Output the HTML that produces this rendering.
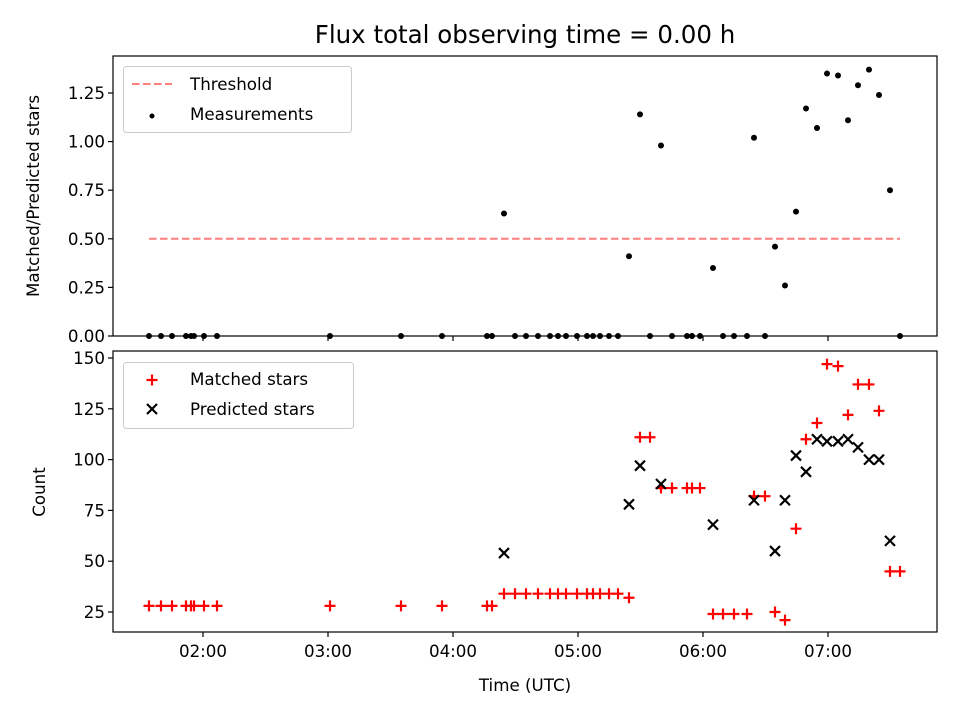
<!DOCTYPE html>
<html><head><meta charset="utf-8"><style>
body{margin:0;background:#fff}
svg{display:block;font-family:"DejaVu Sans","Liberation Sans",sans-serif}
</style></head><body>
<svg id="chart" width="960" height="720" viewBox="0 0 960 720"></svg>
<script>
const times=[1.568,1.664,1.752,1.864,1.904,1.928,2.008,2.112,3.016,3.584,3.912,4.272,4.312,4.408,4.496,4.584,4.68,4.776,4.84,4.904,4.992,5.072,5.12,5.176,5.248,5.32,5.408,5.496,5.576,5.664,5.752,5.872,5.912,5.976,6.08,6.16,6.248,6.352,6.408,6.496,6.576,6.656,6.744,6.824,6.912,6.992,7.08,7.16,7.24,7.328,7.408,7.496,7.576];
const matched=[28,28,28,28,28,28,28,28,28,28,28,28,28,34,34,34,34,34,34,34,34,34,34,34,34,34,32,111,111,86,86,86,86,86,24,24,24,24,82,82,25,21,66,110,118,147,146,122,137,137,124,45,45];
const predicted=[0,0,0,0,0,0,0,0,0,0,0,0,0,54,0,0,0,0,0,0,0,0,0,0,0,0,78,97,0,88,0,0,0,0,68,0,0,0,80,0,55,80,102,94,110,109,109,110,106,100,100,60,0];
const ratio=[0,0,0,0,0,0,0,0,0,0,0,0,0,0.63,0,0,0,0,0,0,0,0,0,0,0,0,0.41,1.14,0,0.98,0,0,0,0,0.35,0,0,0,1.02,0,0.46,0.26,0.64,1.17,1.07,1.35,1.34,1.11,1.29,1.37,1.24,0.75,0];
const threshold=0.5;
const topTicks=[0,0.25,0.5,0.75,1.0,1.25];
const botTicks=[25,50,75,100,125,150];
const xTicks=[2,3,4,5,6,7];
const xTickLabels=["02:00","03:00","04:00","05:00","06:00","07:00"];

const svg=document.getElementById('chart');
const NS='http://www.w3.org/2000/svg';
function mk(tag,attrs,parent){const e=document.createElementNS(NS,tag);for(const k in attrs)e.setAttribute(k,attrs[k]);(parent||svg).appendChild(e);return e;}
const X=t=>203+(t-2)*125;
const Yt=v=>336-v*194.4;
const Yb=v=>612-(v-25)*2.032;
const L=113,R=937;
const FS='16.7';

let tt=mk('text',{x:525,y:43,'text-anchor':'middle','font-size':'24.5'});tt.textContent='Flux total observing time = 0.00 h';



const topG=mk('g',{});


const thr=mk('line',{x1:X(times[0]),x2:X(times[times.length-1]),y1:Yt(threshold),y2:Yt(threshold),stroke:'#ff7f7f','stroke-width':2,'stroke-dasharray':'7.5,3.5'},topG);


times.forEach((tm,i)=>{
  const c=mk('circle',{cx:X(tm),cy:Yt(ratio[i]),r:3,fill:'#000'},topG);
  
  
});
mk('rect',{x:L,y:56,width:R-L,height:280,fill:'none',stroke:'#000','stroke-width':1.2},topG);
topTicks.forEach(v=>{
  mk('line',{x1:L-5,x2:L,y1:Yt(v),y2:Yt(v),stroke:'#000','stroke-width':1.2},topG);
  const tx=mk('text',{x:L-8,y:Yt(v)+6,'text-anchor':'end','font-size':FS},topG);tx.textContent=v.toFixed(2);
  
  
});
xTicks.forEach(v=>mk('line',{x1:X(v),x2:X(v),y1:336,y2:341,stroke:'#000','stroke-width':1.2},topG));
const yl1=mk('text',{x:39,y:196,'text-anchor':'middle','font-size':FS,transform:'rotate(-90 39 196)'},topG);yl1.textContent='Matched/Predicted stars';


const lg1=mk('g',{},topG);


mk('rect',{x:123.5,y:66.5,width:228,height:66,rx:3,fill:'#fff',stroke:'#ccc'},lg1);
mk('line',{x1:132,x2:172,y1:84,y2:84,stroke:'#ff7f7f','stroke-width':2,'stroke-dasharray':'7.5,3.5'},lg1);
let e=mk('text',{x:190,y:90,'font-size':FS},lg1);e.textContent='Threshold';


mk('circle',{cx:152,cy:116,r:2.5,fill:'#000'},lg1);
e=mk('text',{x:190,y:120,'font-size':FS},lg1);e.textContent='Measurements';



const botG=mk('g',{});


times.forEach((tm,i)=>{
  const x=X(tm),y=Yb(matched[i]);
  const p=mk('path',{d:`M${x-5.5} ${y}H${x+5.5}M${x} ${y-5.5}V${y+5.5}`,stroke:'#f00','stroke-width':2.2,fill:'none'},botG);
  
  
});
times.forEach((tm,i)=>{
  if(predicted[i]<=0)return;
  const x=X(tm),y=Yb(predicted[i]),s=5;
  const p=mk('path',{d:`M${x-s} ${y-s}L${x+s} ${y+s}M${x-s} ${y+s}L${x+s} ${y-s}`,stroke:'#000','stroke-width':2.2,fill:'none'},botG);
  
  
});
mk('rect',{x:L,y:351,width:R-L,height:281,fill:'none',stroke:'#000','stroke-width':1.2},botG);
botTicks.forEach(v=>{
  mk('line',{x1:L-5,x2:L,y1:Yb(v),y2:Yb(v),stroke:'#000','stroke-width':1.2},botG);
  const tx=mk('text',{x:L-8,y:Yb(v)+6,'text-anchor':'end','font-size':FS},botG);tx.textContent=v;
  
  
});
xTicks.forEach((v,i)=>{
  mk('line',{x1:X(v),x2:X(v),y1:632,y2:637,stroke:'#000','stroke-width':1.2},botG);
  const tx=mk('text',{x:X(v),y:657,'text-anchor':'middle','font-size':FS},botG);tx.textContent=xTickLabels[i];
  
  
});
const yl2=mk('text',{x:45,y:492,'text-anchor':'middle','font-size':FS,transform:'rotate(-90 45 492)'},botG);yl2.textContent='Count';


const xl=mk('text',{x:525,y:691,'text-anchor':'middle','font-size':FS},botG);xl.textContent='Time (UTC)';


const lg2=mk('g',{},botG);


mk('rect',{x:123.5,y:362.5,width:230,height:66,rx:3,fill:'#fff',stroke:'#ccc'},lg2);
mk('path',{d:'M146.5 380H157.5M152 374.5V385.5',stroke:'#f00','stroke-width':2.2},lg2);
e=mk('text',{x:190,y:385,'font-size':FS},lg2);e.textContent='Matched stars';


mk('path',{d:'M147 404L157 414M147 414L157 404',stroke:'#000','stroke-width':2.2},lg2);
e=mk('text',{x:190,y:415,'font-size':FS},lg2);e.textContent='Predicted stars';


</script>
</body></html>
